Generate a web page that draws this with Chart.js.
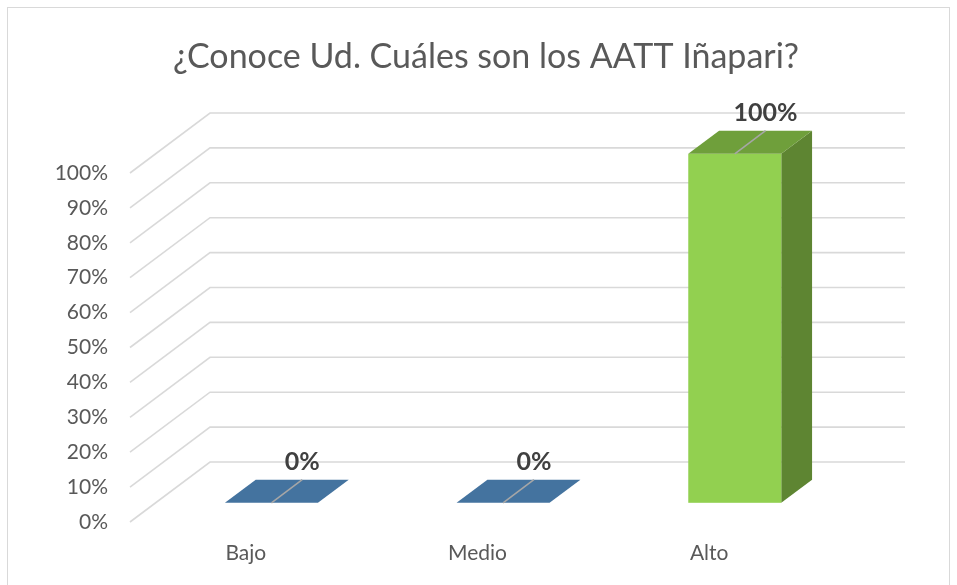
<!DOCTYPE html>
<html><head><meta charset="utf-8">
<script src="https://cdn.jsdelivr.net/npm/chart.js@4"></script>
<style>html,body{margin:0;padding:0;background:#fff}#wrap{width:957px;height:585px;position:relative}</style>
</head><body><div id="wrap"><canvas id="c" width="957" height="585"></canvas></div>
<script>
const chartTitle = '¿Conoce Ud. Cuáles son los AATT Iñapari?';
const categories = ['Bajo', 'Medio', 'Alto'];
const values = [0, 0, 1];
const valueLabels = ['0%', '0%', '100%'];
const yTickValues = [0, 0.1, 0.2, 0.3, 0.4, 0.5, 0.6, 0.7, 0.8, 0.9, 1];
const yTickLabels = ['0%', '10%', '20%', '30%', '40%', '50%', '60%', '70%', '80%', '90%', '100%'];
const barFront = ['#4573a0', '#4573a0', '#92d050'];
const barTop = ['#44739f', '#44739f', '#6f9f3b'];
const barSide = ['#3a628a', '#3a628a', '#5e8532'];

const FONT = 'Lato, "Open Sans", sans-serif';
const DEPTH_DX = 80, DEPTH_DY = -60;       // floor depth vector
const BAR_F = 0.32, BAR_B = 0.705;          // bar depth position (fractions)
const BAR_HALF = 46.5;

const threeD = {
  id: 'threeD',
  beforeDraw(chart) {
    const ctx = chart.ctx;
    ctx.save();
    ctx.fillStyle = '#fff';
    ctx.fillRect(0, 0, chart.width, chart.height);
    ctx.strokeStyle = '#d9d9d9';
    ctx.lineWidth = 1;
    ctx.strokeRect(7.5, 7.5, 942, 580);
    ctx.fillStyle = '#595959';
    ctx.font = '34px ' + FONT;
    ctx.textAlign = 'center';
    ctx.textBaseline = 'middle';
    ctx.fillText(chartTitle, 486, 57);
    ctx.restore();
  },
  beforeDatasetsDraw(chart) {
    const ctx = chart.ctx, ys = chart.scales.y, a = chart.chartArea;
    ctx.save();
    ctx.strokeStyle = '#d9d9d9';
    ctx.lineWidth = 1.6;
    yTickValues.forEach(v => {
      const y = ys.getPixelForValue(v);
      ctx.beginPath();
      ctx.moveTo(a.left, y);
      ctx.lineTo(a.left + DEPTH_DX, y + DEPTH_DY);
      ctx.lineTo(a.right + DEPTH_DX, y + DEPTH_DY);
      ctx.stroke();
    });
    ctx.restore();
  },
  afterDatasetsDraw(chart) {
    const ctx = chart.ctx, xs = chart.scales.x, ys = chart.scales.y;
    const ofx = DEPTH_DX * BAR_F, ofy = DEPTH_DY * BAR_F;
    const bdx = DEPTH_DX * (BAR_B - BAR_F), bdy = DEPTH_DY * (BAR_B - BAR_F);
    ctx.save();
    values.forEach((v, i) => {
      const cx = xs.getPixelForValue(i) + ofx;
      const y0 = ys.getPixelForValue(0) + ofy;
      const y1 = ys.getPixelForValue(v) + ofy;
      const l = cx - BAR_HALF, r = cx + BAR_HALF;
      if (y0 - y1 > 0.5) {
        ctx.fillStyle = barSide[i];
        ctx.beginPath();
        ctx.moveTo(r, y1); ctx.lineTo(r, y0); ctx.lineTo(r + bdx, y0 + bdy); ctx.lineTo(r + bdx, y1 + bdy);
        ctx.closePath(); ctx.fill();
        ctx.fillStyle = barFront[i];
        ctx.fillRect(l, y1, r - l, y0 - y1);
      }
      ctx.fillStyle = barTop[i];
      ctx.beginPath();
      ctx.moveTo(l, y1); ctx.lineTo(r, y1); ctx.lineTo(r + bdx, y1 + bdy); ctx.lineTo(l + bdx, y1 + bdy);
      ctx.closePath(); ctx.fill();
      ctx.strokeStyle = '#a6a6a6';
      ctx.lineWidth = 1.6;
      ctx.beginPath();
      ctx.moveTo(cx, y1); ctx.lineTo(cx + bdx, y1 + bdy);
      ctx.stroke();
      ctx.fillStyle = '#404040';
      ctx.font = 'bold 25px ' + FONT;
      ctx.textAlign = 'center';
      ctx.textBaseline = 'middle';
      ctx.fillText(valueLabels[i], cx + bdx, y1 + bdy - 18);
    });
    ctx.restore();
  }
};

new Chart(document.getElementById('c'), {
  type: 'bar',
  data: {
    labels: categories,
    datasets: [{ data: values, backgroundColor: 'rgba(0,0,0,0)', borderWidth: 0 }]
  },
  plugins: [threeD],
  options: {
    responsive: false,
    animation: false,
    layout: { padding: { left: 0, right: 132, top: 173, bottom: 0 } },
    plugins: {
      legend: { display: false },
      tooltip: { enabled: false },
      title: { display: false }
    },
    scales: {
      x: {
        grid: { display: false, drawTicks: false },
        border: { display: false },
        ticks: { color: '#595959', font: { family: FONT, size: 21 }, padding: 19 },
        afterFit(s) { s.height = 63; }
      },
      y: {
        min: 0, max: 1,
        grid: { display: false, drawTicks: false },
        border: { display: false },
        afterBuildTicks(s) { s.ticks = yTickValues.map(v => ({ value: v })); },
        ticks: {
          color: '#595959', font: { family: FONT, size: 21 }, padding: 22,
          callback: (v, i) => yTickLabels[i]
        },
        afterFit(s) { s.width = 130; }
      }
    }
  }
});
</script>
</body></html>
